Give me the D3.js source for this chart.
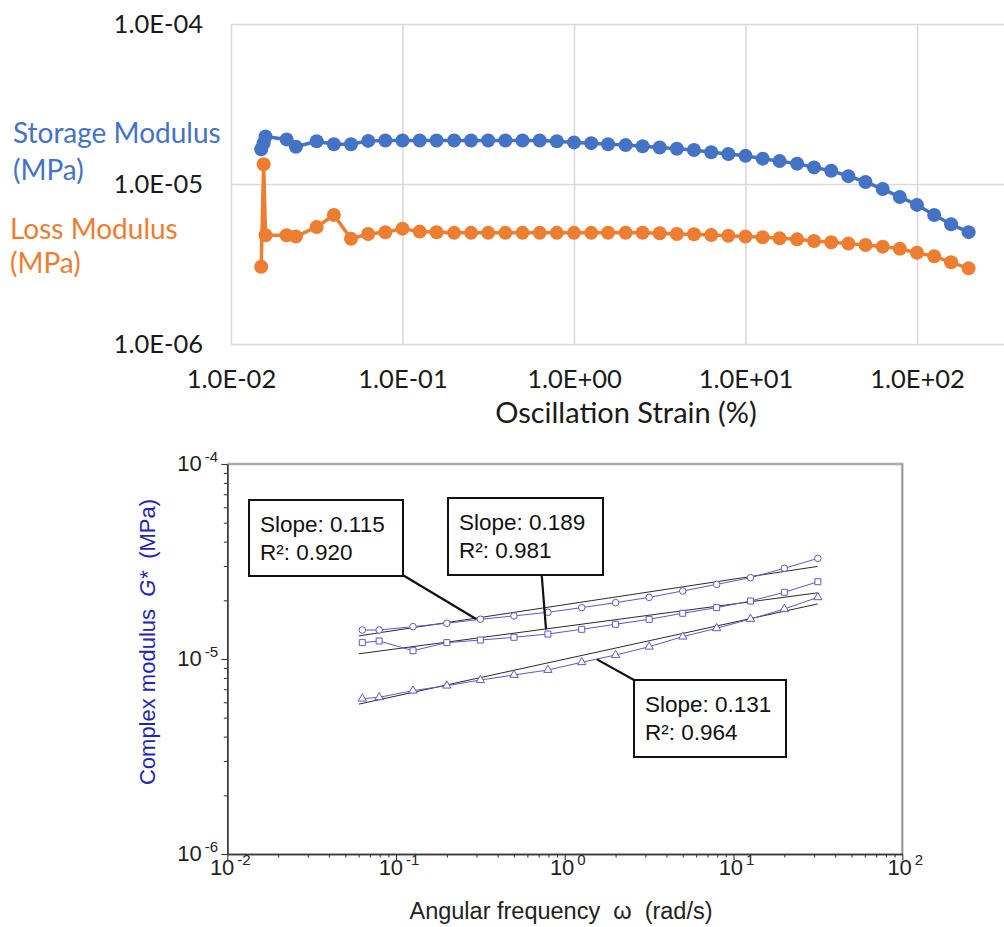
<!DOCTYPE html>
<html>
<head>
<meta charset="utf-8">
<script src="https://cdn.jsdelivr.net/npm/d3@7"></script>
<style>
  body { margin: 0; background: #fff; }
  svg { display: block; }
</style>
</head>
<body>
<svg id="chart" width="1004" height="927"></svg>
<script>
// ---------- Strain sweep (upper panel) ----------
const strain = [0.0150, 0.0155, 0.0159, 0.0211, 0.0239, 0.0316, 0.0398, 0.0501, 0.0631, 0.0794,
  0.1, 0.126, 0.158, 0.2, 0.251, 0.316, 0.398, 0.501, 0.631, 0.794,
  1, 1.26, 1.58, 2, 2.51, 3.16, 3.98, 5.01, 6.31, 7.94,
  10, 12.6, 15.8, 20, 25.1, 31.6, 39.8, 50.1, 63.1, 79.4,
  100, 126, 158, 200];
const storageModulus = [1.65e-5, 1.80e-5, 1.98e-5, 1.90e-5, 1.71e-5, 1.85e-5, 1.77e-5, 1.77e-5, 1.86e-5, 1.87e-5,
  1.87e-5, 1.87e-5, 1.87e-5, 1.87e-5, 1.87e-5, 1.87e-5, 1.87e-5, 1.87e-5, 1.87e-5, 1.85e-5,
  1.82e-5, 1.80e-5, 1.77e-5, 1.75e-5, 1.72e-5, 1.69e-5, 1.66e-5, 1.63e-5, 1.58e-5, 1.54e-5,
  1.50e-5, 1.44e-5, 1.39e-5, 1.34e-5, 1.27e-5, 1.21e-5, 1.12e-5, 1.03e-5, 9.3e-6, 8.3e-6,
  7.4e-6, 6.4e-6, 5.6e-6, 5.0e-6];
const lossModulus = [3.04e-6, 1.33e-5, 4.78e-6, 4.78e-6, 4.69e-6, 5.39e-6, 6.40e-6, 4.55e-6, 4.87e-6, 4.99e-6,
  5.26e-6, 5.04e-6, 4.99e-6, 4.95e-6, 4.95e-6, 4.95e-6, 4.95e-6, 4.95e-6, 4.95e-6, 4.95e-6,
  4.95e-6, 4.95e-6, 4.96e-6, 4.96e-6, 4.96e-6, 4.92e-6, 4.87e-6, 4.85e-6, 4.80e-6, 4.75e-6,
  4.69e-6, 4.65e-6, 4.58e-6, 4.51e-6, 4.40e-6, 4.32e-6, 4.24e-6, 4.16e-6, 4.06e-6, 3.94e-6,
  3.72e-6, 3.53e-6, 3.24e-6, 2.97e-6];
const strainGrid = [0.01, 0.1, 1, 10, 100, 1000];
const strainTicks = [0.01, 0.1, 1, 10, 100];
const strainTickLabels = ["1.0E-02", "1.0E-01", "1.0E+00", "1.0E+01", "1.0E+02"];
const modulusTicks = [1e-6, 1e-5, 1e-4];
const modulusTickLabels = ["1.0E-06", "1.0E-05", "1.0E-04"];

// ---------- Frequency sweep (lower panel) ----------
const omega = [0.0631, 0.0794, 0.126, 0.2, 0.316, 0.5, 0.794, 1.26, 2, 3.16, 5, 7.94, 12.6, 20, 31.6];
const gCircle = [1.408e-5, 1.408e-5, 1.465e-5, 1.525e-5, 1.599e-5, 1.663e-5, 1.736e-5, 1.834e-5,
  1.945e-5, 2.07e-5, 2.233e-5, 2.415e-5, 2.612e-5, 2.92e-5, 3.28e-5];
const gSquare = [1.213e-5, 1.237e-5, 1.103e-5, 1.213e-5, 1.251e-5, 1.292e-5, 1.343e-5, 1.42e-5,
  1.507e-5, 1.598e-5, 1.716e-5, 1.834e-5, 1.983e-5, 2.198e-5, 2.49e-5];
const gTriangle = [6.26e-6, 6.36e-6, 6.88e-6, 7.30e-6, 7.80e-6, 8.28e-6, 8.78e-6, 9.62e-6,
  1.048e-5, 1.156e-5, 1.302e-5, 1.437e-5, 1.604e-5, 1.805e-5, 2.072e-5];
// power-law fits G* = A * omega^slope, one per series (circle, square, triangle)
const fitSlopes = [0.131, 0.115, 0.189];
const fitPrefactors = [1.899e-5, 1.469e-5, 9.98e-6];
const fitOmegaRange = [0.0603, 31.5];
// callout texts and the point on the plot each one points to
const calloutSlopes = ["0.115", "0.189", "0.131"];
const calloutR2 = ["0.920", "0.981", "0.964"];
const calloutOmega = [0.298, 0.774, 1.55];
const calloutG = [1.604e-5, 1.42e-5, 9.96e-6];
const freqTicks = [0.01, 0.1, 1, 10, 100];
const freqTickExponents = ["-2", "-1", "0", "1", "2"];
const gTicks = [1e-6, 1e-5, 1e-4];
const gTickExponents = ["-6", "-5", "-4"];

const svg = d3.select("#chart");

// ================= Upper panel =================
const topFont = "Lato, 'Open Sans', sans-serif";
const blue = "#4472C4", orange = "#ED7D31";
const xTop = d3.scaleLog().domain([0.01, 1000]).range([231, 1088.5]);
const yTop = d3.scaleLog().domain([1e-6, 1e-4]).range([344, 24]);

const upper = svg.append("g");
// vertical gridlines
upper.append("g")
  .attr("transform", "translate(0,344)")
  .call(d3.axisBottom(xTop).tickValues(strainGrid).tickSize(-320).tickFormat(""))
  .call(g => g.select(".domain").remove())
  .call(g => g.selectAll("line").attr("stroke", "#d9d9d9").attr("stroke-width", 1.6));
// horizontal gridlines
upper.append("g")
  .attr("transform", "translate(231,0)")
  .call(d3.axisLeft(yTop).tickValues(modulusTicks).tickSize(-900).tickFormat(""))
  .call(g => g.select(".domain").remove())
  .call(g => g.selectAll("line").attr("stroke", "#d9d9d9").attr("stroke-width", 1.6));

// tick labels
upper.append("g")
  .attr("transform", "translate(0,344)")
  .call(d3.axisBottom(xTop).tickValues(strainTicks).tickSize(0)
    .tickFormat((d, i) => strainTickLabels[i]))
  .call(g => g.select(".domain").remove())
  .call(g => g.selectAll("text").attr("font-family", topFont).attr("font-size", 25.5)
    .attr("fill", "#1a1a1a").attr("y", 44).attr("dy", 0));
upper.append("g")
  .attr("transform", "translate(203,0)")
  .call(d3.axisLeft(yTop).tickValues(modulusTicks).tickSize(0)
    .tickFormat((d, i) => modulusTickLabels[i]))
  .call(g => g.select(".domain").remove())
  .call(g => g.selectAll("text").attr("font-family", topFont).attr("font-size", 25.5)
    .attr("fill", "#1a1a1a").attr("x", 0).attr("dy", "0.35em"));

upper.append("text")
  .attr("x", 626).attr("y", 423)
  .attr("text-anchor", "middle")
  .attr("font-family", topFont).attr("font-size", 29).attr("fill", "#1a1a1a")
  .text("Oscillation Strain (%)");

// series legends at the left
const legendRows = [
  { text: "Storage Modulus", x: 13, y: 143, color: blue },
  { text: "(MPa)", x: 13, y: 180, color: blue },
  { text: "Loss Modulus", x: 10, y: 239, color: orange },
  { text: "(MPa)", x: 10, y: 273, color: orange }
];
upper.selectAll("text.legend").data(legendRows).join("text")
  .attr("class", "legend")
  .attr("x", d => d.x).attr("y", d => d.y)
  .attr("font-family", topFont).attr("font-size", 28)
  .attr("fill", d => d.color)
  .text(d => d.text);

const topSeries = [
  { values: lossModulus, color: orange },
  { values: storageModulus, color: blue }
];
const lineTop = d3.line().x(d => xTop(d[0])).y(d => yTop(d[1]));
topSeries.forEach(s => {
  const pts = strain.map((x, i) => [x, s.values[i]]);
  upper.append("path").datum(pts)
    .attr("d", lineTop).attr("fill", "none")
    .attr("stroke", s.color).attr("stroke-width", 3.5).attr("stroke-linejoin", "round");
  upper.append("g").selectAll("circle").data(pts).join("circle")
    .attr("cx", d => xTop(d[0])).attr("cy", d => yTop(d[1]))
    .attr("r", 7).attr("fill", s.color);
});

// ================= Lower panel =================
const botFont = "'Liberation Sans', Arial, sans-serif";
const markColor = "#5a5ac6";
const xBot = d3.scaleLog().domain([0.01, 100]).range([227.3, 902.3]);
const yBot = d3.scaleLog().domain([1e-6, 1e-4]).range([854, 464]);
const lower = svg.append("g");

// frame top/right
lower.append("path")
  .attr("d", `M${xBot(0.01)},${yBot(1e-4)}H${xBot(100)}V${yBot(1e-6)}`)
  .attr("fill", "none").attr("stroke", "#cfcfcf").attr("stroke-width", 3);
lower.append("path")
  .attr("d", `M${xBot(0.01)},${yBot(1e-4)}H${xBot(100)}V${yBot(1e-6)}`)
  .attr("fill", "none").attr("stroke", "#8a8a8a").attr("stroke-width", 1.2);

// minor tick values (2..9 per decade)
const minorX = [];
for (let e = -2; e < 2; e++) for (let m = 2; m <= 9; m++) minorX.push(m * Math.pow(10, e));
const minorY = [];
for (let e = -6; e < -4; e++) for (let m = 2; m <= 9; m++) minorY.push(m * Math.pow(10, e));

const styleAxis = g => {
  g.select(".domain").attr("stroke", "#3a3a3a").attr("stroke-width", 1.4);
  g.selectAll(".tick line").attr("stroke", "#3a3a3a").attr("stroke-width", 1.1);
  g.selectAll(".tick text").remove();
};
lower.append("g").attr("transform", `translate(0,${yBot(1e-6)})`)
  .call(d3.axisBottom(xBot).tickValues(minorX).tickSize(3.5).tickSizeOuter(0)).call(styleAxis);
lower.append("g").attr("transform", `translate(0,${yBot(1e-6)})`)
  .call(d3.axisBottom(xBot).tickValues(freqTicks).tickSize(6).tickSizeOuter(0)).call(styleAxis);
lower.append("g").attr("transform", `translate(${xBot(0.01)},0)`)
  .call(d3.axisLeft(yBot).tickValues(minorY).tickSize(3.5).tickSizeOuter(0)).call(styleAxis);
lower.append("g").attr("transform", `translate(${xBot(0.01)},0)`)
  .call(d3.axisLeft(yBot).tickValues(gTicks).tickSize(6).tickSizeOuter(0)).call(styleAxis);

// power-of-ten tick labels
const xLab = lower.append("g").selectAll("text").data(freqTicks).join("text")
  .attr("x", d => xBot(d) + 3).attr("y", 875)
  .attr("text-anchor", "middle")
  .attr("font-family", botFont).attr("font-size", 22).attr("fill", "#222");
xLab.append("tspan").text("10");
xLab.append("tspan").attr("dx", 3).attr("dy", -10).attr("font-size", 15)
  .text((d, i) => freqTickExponents[i]);

const yLab = lower.append("g").selectAll("text").data(gTicks).join("text")
  .attr("x", 218).attr("y", d => yBot(d) + 6.5)
  .attr("text-anchor", "end")
  .attr("font-family", botFont).attr("font-size", 22).attr("fill", "#222");
yLab.append("tspan").text("10");
yLab.append("tspan").attr("dx", 3).attr("dy", -9).attr("font-size", 15)
  .text((d, i) => gTickExponents[i]);

// axis titles
lower.append("text")
  .attr("x", 561).attr("y", 919).attr("text-anchor", "middle")
  .attr("font-family", botFont).attr("font-size", 23.5).attr("fill", "#222")
  .attr("xml:space", "preserve")
  .text("Angular frequency  \u03c9  (rad/s)");

const yTitle = lower.append("text")
  .attr("transform", "translate(155,642) rotate(-90)")
  .attr("text-anchor", "middle")
  .attr("font-family", botFont).attr("font-size", 22).attr("fill", "#2424b4")
  .attr("xml:space", "preserve");
yTitle.append("tspan").text("Complex modulus  ");
yTitle.append("tspan").attr("font-style", "italic").text("G*");
yTitle.append("tspan").text("  (MPa)");

// fitted power-law lines
fitSlopes.forEach((s, i) => {
  const pts = fitOmegaRange.map(w => [w, fitPrefactors[i] * Math.pow(w, s)]);
  lower.append("line")
    .attr("x1", xBot(pts[0][0])).attr("y1", yBot(pts[0][1]))
    .attr("x2", xBot(pts[1][0])).attr("y2", yBot(pts[1][1]))
    .attr("stroke", "#2a2a2a").attr("stroke-width", 1);
});

// measured series
const botSeries = [
  { values: gCircle, shape: d3.symbolCircle, size: 34 },
  { values: gSquare, shape: d3.symbolSquare, size: 36 },
  { values: gTriangle, shape: d3.symbolTriangle, size: 30 }
];
const lineBot = d3.line().x(d => xBot(d[0])).y(d => yBot(d[1]));
botSeries.forEach(s => {
  const pts = omega.map((w, i) => [w, s.values[i]]);
  lower.append("path").datum(pts).attr("d", lineBot)
    .attr("fill", "none").attr("stroke", markColor).attr("stroke-width", 1);
  lower.append("g").selectAll("path").data(pts).join("path")
    .attr("transform", d => `translate(${xBot(d[0])},${yBot(d[1])})`)
    .attr("d", d3.symbol().type(s.shape).size(s.size))
    .attr("fill", "#fff").attr("stroke", markColor).attr("stroke-width", 1);
});

// callout boxes with leader lines
const boxes = [
  { x: 249, y: 500, w: 154, h: 76, corner: [402.7, 575] },
  { x: 448, y: 498, w: 155, h: 77, corner: [541.7, 575] },
  { x: 634, y: 680, w: 152, h: 77, corner: [634, 680] }
];
boxes.forEach((b, i) => {
  lower.append("line")
    .attr("x1", b.corner[0]).attr("y1", b.corner[1])
    .attr("x2", xBot(calloutOmega[i])).attr("y2", yBot(calloutG[i]))
    .attr("stroke", "#111").attr("stroke-width", 2.2);
  lower.append("rect")
    .attr("x", b.x).attr("y", b.y).attr("width", b.w).attr("height", b.h)
    .attr("fill", "#fff").attr("stroke", "#111").attr("stroke-width", 2);
  lower.append("text")
    .attr("x", b.x + 11).attr("y", b.y + 32)
    .attr("font-family", botFont).attr("font-size", 22.5).attr("fill", "#111")
    .text("Slope: " + calloutSlopes[i]);
  lower.append("text")
    .attr("x", b.x + 11).attr("y", b.y + 60)
    .attr("font-family", botFont).attr("font-size", 22.5).attr("fill", "#111")
    .text("R\u00b2: " + calloutR2[i]);
});
</script>
</body>
</html>
